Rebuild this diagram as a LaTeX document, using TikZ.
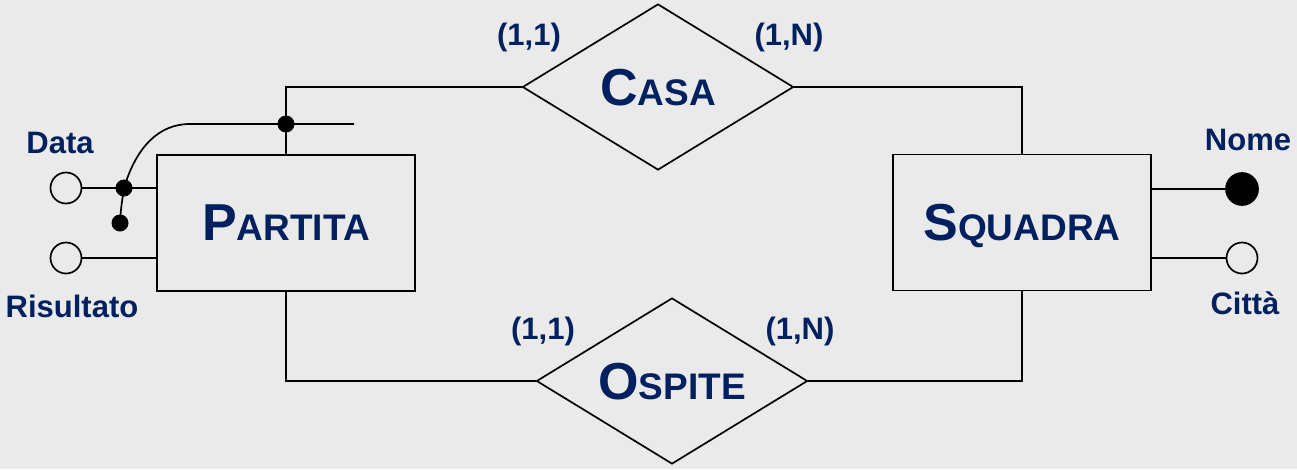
\documentclass[tikz,border=0pt]{standalone}
\usepackage{fontspec}
\setmainfont{Liberation Sans}
\usetikzlibrary{shapes.geometric}
\definecolor{bgc}{RGB}{234,234,234}
\definecolor{navy}{RGB}{0,32,96}
\newcommand{\ertitle}[2]{{\fontsize{52}{52}\selectfont #1}{\fontsize{37}{37}\selectfont #2}}
\tikzset{
  line/.style={line width=1.7pt, black},
  entity/.style={draw, line width=1.7pt, rectangle, minimum width=258pt, minimum height=136pt, inner sep=0pt, text=navy, font=\bfseries, text depth=0pt},
  relation/.style={draw, line width=1.7pt, diamond, aspect=1.63, minimum width=271pt, minimum height=166pt, inner sep=0pt, text=navy, font=\bfseries, text depth=0pt},
  attr/.style={draw, line width=1.7pt, circle, minimum size=31pt, inner sep=0pt, fill=bgc},
  keyattr/.style={draw, line width=1.7pt, circle, minimum size=32pt, inner sep=0pt, fill=black},
  dotnode/.style={circle, fill=black, minimum size=17pt, inner sep=0pt},
  lbl/.style={text=navy, font=\fontsize{31}{31}\selectfont\bfseries, anchor=base, inner sep=0pt},
}
\begin{document}
\begin{tikzpicture}[x=1pt, y=-1pt]
\fill[bgc] (0,0) rectangle (1297,469);
\useasboundingbox (0,0) rectangle (1297,469);
% entities
\node[entity] (partita) at (286,223) {\ertitle{P}{ARTITA}};
\node[entity] (squadra) at (1022,222.5) {\ertitle{S}{QUADRA}};
% relationships
\node[relation] (casa) at (658,87) {\ertitle{C}{ASA}};
\node[relation] (ospite) at (672,381) {\ertitle{O}{SPITE}};
% connectors
\draw[line] (partita.north) |- (casa.west);
\draw[line] (casa.east) -| (squadra.north);
\draw[line] (partita.south) |- (ospite.west);
\draw[line] (ospite.east) -| (squadra.south);
% attributes
\node[attr] (data) at (66,188) {};
\node[attr] (ris) at (66,258) {};
\node[keyattr] (nome) at (1242,189) {};
\node[attr] (citta) at (1242,258) {};
\draw[line] (data.east) -- (data.east -| partita.west);
\draw[line] (ris.east) -- (ris.east -| partita.west);
\draw[line] (nome.west) -- (nome.west -| squadra.east);
\draw[line] (citta.west) -- (citta.west -| squadra.east);
% composite identifier
\coordinate (kend) at (354,124);
\node[dotnode] (k1) at (124,188) {};
\node[dotnode] (k2) at (120,223) {};
\node[dotnode] (k3) at (286,124) {};
\draw[line] (k2.center) .. controls (121,208) .. (k1.center)
  .. controls (136,148) and (158,124) .. (190,124) -- (kend);
% labels
\node[lbl] (ldata) at (60,153) {Data};
\node[lbl] (lris) at (72,317) {Risultato};
\node[lbl] (lnome) at (1248,150) {Nome};
\node[lbl] (lcitta) at (1245,314) {Città};
\node[lbl] (c1) at (529,45) {(1,1)};
\node[lbl] (c2) at (789,45) {(1,N)};
\node[lbl] (c3) at (543,339) {(1,1)};
\node[lbl] (c4) at (800,339) {(1,N)};
\end{tikzpicture}
\end{document}
